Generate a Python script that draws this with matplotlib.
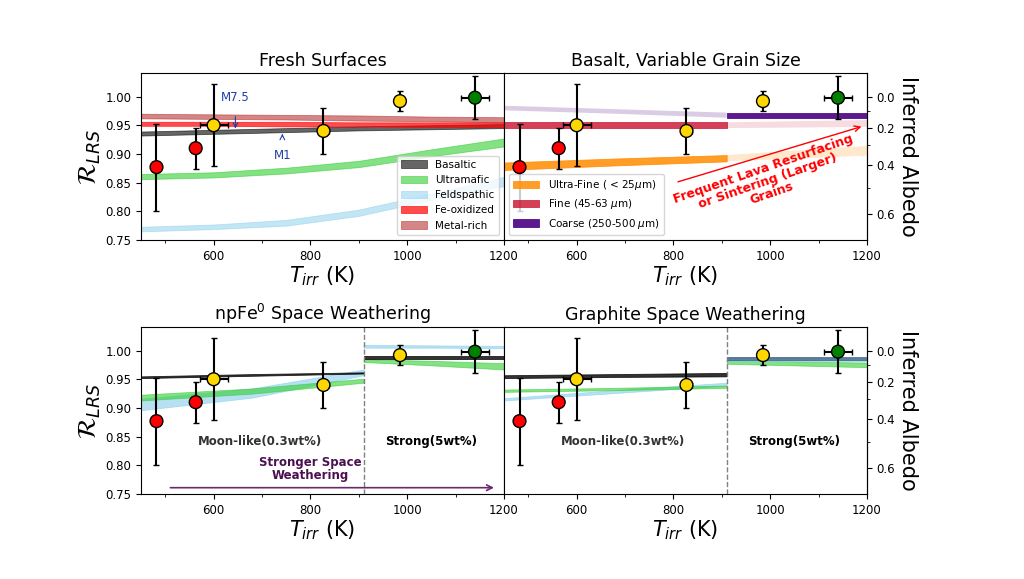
import numpy as np
import matplotlib
matplotlib.use("Agg")
import matplotlib.pyplot as plt
from matplotlib.ticker import FixedLocator

# observed points
obs_T = [482, 563, 600, 827, 985, 1140]
obs_R = [0.877, 0.910, 0.950, 0.940, 0.992, 0.998]
obs_Rerr = [0.076, 0.036, 0.071, 0.040, 0.017, 0.037]
obs_Terr = [0, 0, 29, 12, 8, 29]
obs_color = ["red", "red", "gold", "gold", "gold", "green"]

# Fresh surfaces
T_fresh = [450, 600, 750, 900, 1050, 1200]
basaltic_lo = [0.932, 0.935, 0.938, 0.941, 0.943, 0.945]
basaltic_hi = [0.939, 0.942, 0.945, 0.948, 0.950, 0.952]
ultramafic_lo = [0.856, 0.859, 0.866, 0.877, 0.896, 0.913]
ultramafic_hi = [0.865, 0.868, 0.876, 0.888, 0.908, 0.927]
feldspathic_lo = [0.765, 0.769, 0.775, 0.792, 0.820, 0.844]
feldspathic_hi = [0.773, 0.777, 0.785, 0.803, 0.831, 0.860]
feoxid_lo = [0.949, 0.949, 0.948, 0.948, 0.947, 0.947]
feoxid_hi = [0.956, 0.956, 0.956, 0.955, 0.955, 0.955]
metal_lo = [0.962, 0.961, 0.960, 0.958, 0.957, 0.955]
metal_hi = [0.970, 0.969, 0.968, 0.967, 0.965, 0.964]

# Basalt grain sizes
T_cold = [450, 680, 910]
T_hot = [910, 1055, 1200]
ufine_cold_lo = [0.872, 0.880, 0.887]
ufine_cold_hi = [0.885, 0.892, 0.898]
ufine_hot_lo = [0.887, 0.892, 0.897]
ufine_hot_hi = [0.898, 0.906, 0.914]
fine_cold_lo = [0.945, 0.945, 0.945]
fine_cold_hi = [0.955, 0.955, 0.955]
fine_hot_lo = [0.945, 0.946, 0.947]
fine_hot_hi = [0.955, 0.957, 0.959]
coarse_cold_lo = [0.976, 0.970, 0.963]
coarse_cold_hi = [0.984, 0.978, 0.972]
coarse_hot_lo = [0.963, 0.963, 0.963]
coarse_hot_hi = [0.972, 0.972, 0.972]

# npFe0 weathering
npfe_bas_cold_lo = [0.952, 0.956, 0.960]
npfe_bas_cold_hi = [0.955, 0.959, 0.962]
npfe_um_cold_lo = [0.913, 0.925, 0.944]
npfe_um_cold_hi = [0.923, 0.934, 0.951]
npfe_fs_cold_lo = [0.896, 0.918, 0.957]
npfe_fs_cold_hi = [0.916, 0.934, 0.967]
npfe_bas_hot_lo = [0.986, 0.986, 0.986]
npfe_bas_hot_hi = [0.990, 0.990, 0.990]
npfe_um_hot_lo = [0.980, 0.974, 0.967]
npfe_um_hot_hi = [0.985, 0.982, 0.978]
npfe_fs_hot_lo = [1.005, 1.005, 1.004]
npfe_fs_hot_hi = [1.010, 1.009, 1.008]

# graphite weathering
gr_bas_cold_lo = [0.952, 0.954, 0.955]
gr_bas_cold_hi = [0.957, 0.959, 0.961]
gr_um_cold_lo = [0.928, 0.931, 0.935]
gr_um_cold_hi = [0.932, 0.935, 0.939]
gr_fs_cold_lo = [0.913, 0.926, 0.939]
gr_fs_cold_hi = [0.917, 0.931, 0.944]
gr_bas_hot_lo = [0.984, 0.984, 0.984]
gr_bas_hot_hi = [0.989, 0.989, 0.989]
gr_um_hot_lo = [0.977, 0.974, 0.971]
gr_um_hot_hi = [0.983, 0.981, 0.979]
gr_fs_hot_lo = [0.981, 0.981, 0.981]
gr_fs_hot_hi = [0.988, 0.988, 0.987]

T_split = 910

fig = plt.figure(figsize=(10.24, 5.79), dpi=100)
w, h = 0.3545, 0.2884
ax1 = fig.add_axes([0.1377, 0.5855, w, h])
ax2 = fig.add_axes([0.1377 + w, 0.5855, w, h])
ax3 = fig.add_axes([0.1377, 0.1468, w, h])
ax4 = fig.add_axes([0.1377 + w, 0.1468, w, h])


def band(ax, T, lo, hi, color, alpha, label=None, ec=None):
    ax.fill_between(T, lo, hi, color=color, alpha=alpha, lw=0.6,
                    edgecolor=ec if ec else color, label=label)


def albedo_fwd(r):
    return 1 - np.asarray(r) ** 4


def albedo_inv(a):
    return np.clip(1 - np.asarray(a), 1e-6, None) ** 0.25


for ax, title in zip([ax1, ax2, ax3, ax4],
                     ["Fresh Surfaces", "Basalt, Variable Grain Size",
                      r"npFe$^0$ Space Weathering", "Graphite Space Weathering"]):
    ax.set_xlim(450, 1200)
    ax.set_ylim(0.75, 1.041)
    ax.set_title(title, fontsize=12.5, pad=5)
    ax.set_xlabel(r"$T_{irr}$ (K)", fontsize=15, labelpad=1)
    ax.set_xticks([600, 800, 1000, 1200])
    ax.xaxis.set_minor_locator(FixedLocator([500, 700, 900, 1100]))
    ax.tick_params(labelsize=8.5)
    ax.errorbar(obs_T, obs_R, yerr=obs_Rerr, xerr=obs_Terr, fmt="none",
                ecolor="black", elinewidth=1.5, capsize=2.5, zorder=5)
    ax.scatter(obs_T, obs_R, c=obs_color, s=85, edgecolors="black",
               linewidths=1, zorder=6)

for ax in [ax1, ax3]:
    ax.set_yticks([0.75, 0.80, 0.85, 0.90, 0.95, 1.00])
    ax.set_ylabel(r"$\mathcal{R}_{LRS}$", fontsize=18, labelpad=2)

for ax in [ax2, ax4]:
    ax.set_yticks([])
    sec = ax.secondary_yaxis("right", functions=(albedo_fwd, albedo_inv))
    sec.set_yticks([0.0, 0.2, 0.4, 0.6])
    sec.yaxis.set_minor_locator(FixedLocator([0.1, 0.3, 0.5]))
    sec.tick_params(labelsize=8.5)
    sec.set_ylabel("Inferred Albedo", fontsize=15, rotation=270, labelpad=16)

# panel 1
band(ax1, T_fresh, basaltic_lo, basaltic_hi, "black", 0.6, "Basaltic")
band(ax1, T_fresh, ultramafic_lo, ultramafic_hi, "limegreen", 0.6, "Ultramafic")
band(ax1, T_fresh, feldspathic_lo, feldspathic_hi, "skyblue", 0.5, "Feldspathic")
band(ax1, T_fresh, feoxid_lo, feoxid_hi, "red", 0.7, "Fe-oxidized")
band(ax1, T_fresh, metal_lo, metal_hi, "firebrick", 0.55, "Metal-rich")
ax1.legend(loc="lower right", fontsize=7.5, handlelength=2.5)
ax1.annotate("M7.5", xy=(645, 0.944), xytext=(645, 0.998), color="#1f3fa8",
             fontsize=8.5, ha="center", va="center",
             arrowprops=dict(arrowstyle="->", color="#1f3fa8", lw=0.8,
                             shrinkA=7, shrinkB=0))
ax1.annotate("M1", xy=(742, 0.935), xytext=(742, 0.898), color="#1f3fa8",
             fontsize=8.5, ha="center", va="center",
             arrowprops=dict(arrowstyle="->", color="#1f3fa8", lw=0.8,
                             shrinkA=7, shrinkB=0))

# panel 2
band(ax2, T_cold, ufine_cold_lo, ufine_cold_hi, "darkorange", 0.85, "Ultra-Fine ( < 25$\\mu$m)")
band(ax2, T_cold, fine_cold_lo, fine_cold_hi, "#c8102e", 0.8, "Fine (45-63 $\\mu$m)")
band(ax2, T_cold, coarse_cold_lo, coarse_cold_hi, "indigo", 0.2, ec="none")
band(ax2, T_hot, ufine_hot_lo, ufine_hot_hi, "darkorange", 0.2, ec="none")
band(ax2, T_hot, fine_hot_lo, fine_hot_hi, "#c8102e", 0.15, ec="none")
band(ax2, T_hot, coarse_hot_lo, coarse_hot_hi, "indigo", 0.9, "Coarse (250-500 $\\mu$m)")
ax2.legend(loc="lower left", fontsize=7.5, handlelength=2.5)
ax2.annotate("", xy=(1194, 0.949), xytext=(804, 0.850),
             arrowprops=dict(arrowstyle="->", color="red", lw=1))
ax2.text(995, 0.853, "Frequent Lava Resurfacing\nor Sintering (Larger)\nGrains",
         color="red", fontsize=9, fontweight="bold", ha="center", va="center",
         rotation=19, linespacing=1.0)

# panels 3 and 4 labels
for ax in [ax3, ax4]:
    ax.axvline(T_split, color="gray", ls="--", lw=1)
    ax.text(695, 0.841, "Moon-like(0.3wt%)", fontsize=8.5, fontweight="bold",
            color="#333333", ha="center", va="center")
    ax.text(1050, 0.841, "Strong(5wt%)", fontsize=8.5, fontweight="bold",
            color="black", ha="center", va="center")

band(ax3, T_cold, npfe_fs_cold_lo, npfe_fs_cold_hi, "skyblue", 0.6)
band(ax3, T_cold, npfe_um_cold_lo, npfe_um_cold_hi, "limegreen", 0.6)
band(ax3, T_cold, npfe_bas_cold_lo, npfe_bas_cold_hi, "black", 0.8)
band(ax3, T_hot, npfe_fs_hot_lo, npfe_fs_hot_hi, "skyblue", 0.6)
band(ax3, T_hot, npfe_um_hot_lo, npfe_um_hot_hi, "limegreen", 0.6)
band(ax3, T_hot, npfe_bas_hot_lo, npfe_bas_hot_hi, "black", 0.8)
ax3.annotate("", xy=(1185, 0.761), xytext=(505, 0.761),
             arrowprops=dict(arrowstyle="->", color="#6a2a6a", lw=1.2))
ax3.text(800, 0.794, "Stronger Space\nWeathering", color="#4b1050",
         fontsize=8.5, fontweight="bold", ha="center", va="center",
         linespacing=1.0)

band(ax4, T_cold, gr_fs_cold_lo, gr_fs_cold_hi, "skyblue", 0.6)
band(ax4, T_cold, gr_um_cold_lo, gr_um_cold_hi, "limegreen", 0.6)
band(ax4, T_cold, gr_bas_cold_lo, gr_bas_cold_hi, "black", 0.8)
band(ax4, T_hot, gr_um_hot_lo, gr_um_hot_hi, "limegreen", 0.6)
band(ax4, T_hot, gr_fs_hot_lo, gr_fs_hot_hi, "skyblue", 0.6)
band(ax4, T_hot, gr_bas_hot_lo, gr_bas_hot_hi, "#1f3f5f", 0.6)

fig.savefig("out.png", dpi=100)
